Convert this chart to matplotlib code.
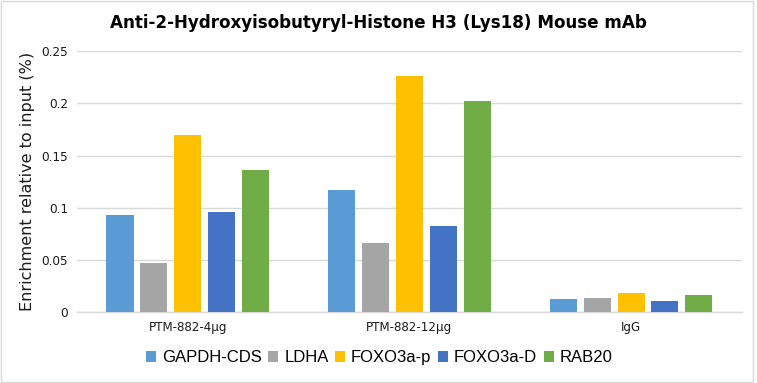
import matplotlib
matplotlib.use("Agg")
import matplotlib.pyplot as plt
import numpy as np
from matplotlib.patches import Patch, Rectangle

groups = ["PTM-882-4μg", "PTM-882-12μg", "IgG"]
series = ["GAPDH-CDS", "LDHA", "FOXO3a-p", "FOXO3a-D", "RAB20"]
gapdh = [0.093, 0.117, 0.0127]
ldha = [0.047, 0.066, 0.0137]
foxo3a_p = [0.170, 0.226, 0.0185]
foxo3a_d = [0.096, 0.083, 0.0108]
rab20 = [0.136, 0.202, 0.0166]
yticks = [0, 0.05, 0.1, 0.15, 0.2, 0.25]
ytick_labels = ["0", "0.05", "0.1", "0.15", "0.2", "0.25"]

colors = ["#5B9BD5", "#A5A5A5", "#FFC000", "#4472C4", "#70AD47"]
values = [gapdh, ldha, foxo3a_p, foxo3a_d, rab20]

fig = plt.figure(figsize=(7.57, 3.83), dpi=100)
ax = fig.add_axes([0.1017, 0.1846, 0.8783, 0.6822])

x = np.arange(len(groups))
width = 0.122
step = 0.153
for i, (vals, c) in enumerate(zip(values, colors)):
    ax.bar(x + (i - 2) * step, vals, width=width, color=c, zorder=3)

ax.set_xlim(-0.5, 2.5)
ax.set_ylim(0, 0.25)
ax.set_yticks(yticks)
ax.set_yticklabels(ytick_labels, fontsize=8.7, color="#1a1a1a")
ax.set_xticks(x)
ax.set_xticklabels(groups, fontsize=8.6, color="#1a1a1a")
ax.tick_params(axis="both", length=0)
ax.tick_params(axis="y", pad=6.5)
ax.tick_params(axis="x", pad=6)
ax.grid(axis="y", color="#D9D9D9", linewidth=1, zorder=0)
for s in ["left", "right", "top"]:
    ax.spines[s].set_visible(False)
ax.spines["bottom"].set_color("#D9D9D9")
ax.spines["bottom"].set_linewidth(1)

fig.text(0.0357, 0.526, "Enrichment relative to input (%)", rotation=90,
         ha="center", va="center", fontsize=11.5, color="#1a1a1a")
fig.text(0.5, 0.94, "Anti-2-Hydroxyisobutyryl-Histone H3 (Lys18) Mouse mAb",
         ha="center", va="center", fontsize=12.1, fontweight="bold", color="black")

handles = [Patch(facecolor=c, edgecolor="none") for c in colors]
fig.legend(handles, series, loc="center", bbox_to_anchor=(0.501, 0.066),
           ncol=5, frameon=False, handlelength=0.6, handleheight=0.6,
           handletextpad=0.35, columnspacing=0.4,
           prop={"family": "Liberation Sans", "size": 12})

fig.patches.append(Rectangle((0.001, 0.003), 0.994, 0.994, transform=fig.transFigure,
                             fill=False, edgecolor="#D9D9D9", linewidth=1))

fig.savefig("out.png", dpi=100)
